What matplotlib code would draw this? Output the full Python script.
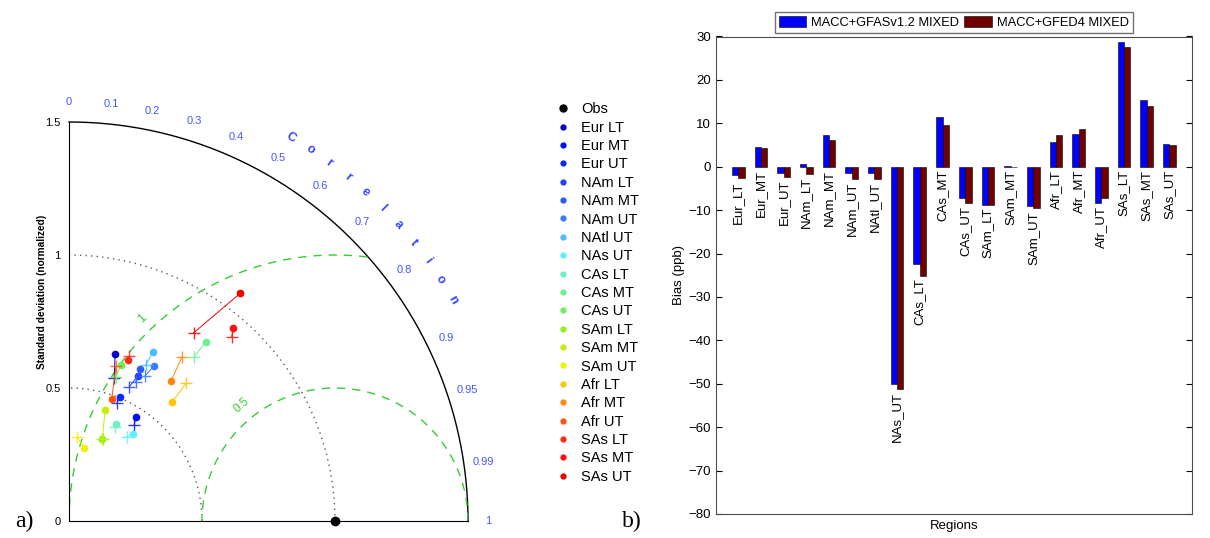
import numpy as np
import matplotlib.pyplot as plt
from matplotlib.lines import Line2D

plt.rcParams['font.family'] = ['Liberation Sans', 'DejaVu Sans']

# regions / layers
regions = ['Eur LT', 'Eur MT', 'Eur UT', 'NAm LT', 'NAm MT', 'NAm UT', 'NAtl UT',
           'NAs UT', 'CAs LT', 'CAs MT', 'CAs UT', 'SAm LT', 'SAm MT', 'SAm UT',
           'Afr LT', 'Afr MT', 'Afr UT', 'SAs LT', 'SAs MT', 'SAs UT']
bar_names = [r.replace(' ', '_') for r in regions]

colors = ['#0000c8', '#0010f0', '#0a28ff', '#1e40ff', '#2a5cff', '#3a7cff', '#4cbcff',
          '#5ef0f8', '#6cf0c8', '#6ef090', '#70f058', '#90f020', '#c4f000', '#f0f000',
          '#ffc400', '#ff8810', '#ff5410', '#ff2810', '#ff1010', '#f00000']

# Taylor statistics (normalized std, correlation)
gfas_std = [0.651, 0.465, 0.504, 0.603, 0.630, 0.664, 0.711, 0.405, 0.405, 0.847,
            0.618, 0.332, 0.439, 0.281, 0.591, 0.651, 0.487, 0.645, 0.953, 1.071]
gfas_corr = [0.266, 0.539, 0.380, 0.428, 0.425, 0.480, 0.446, 0.591, 0.434, 0.607,
             0.316, 0.371, 0.309, 0.201, 0.655, 0.589, 0.330, 0.346, 0.648, 0.601]
gfed_std = [0.564, 0.437, 0.478, 0.554, 0.581, 0.615, 0.654, 0.384, 0.392, 0.776,
            0.570, 0.336, 0.332, 0.316, 0.679, 0.750, 0.609, 0.662, 0.924, 0.848]
gfed_corr = [0.302, 0.562, 0.376, 0.410, 0.432, 0.464, 0.441, 0.565, 0.441, 0.606,
             0.310, 0.386, 0.377, 0.099, 0.648, 0.567, 0.290, 0.343, 0.662, 0.552]

# bias (ppb)
bias_gfas = [-1.9, 4.6, -1.5, 0.7, 7.4, -1.5, -1.5, -50.0, -22.3, 11.4,
             -7.3, -8.8, 0.2, -9.1, 5.6, 7.6, -8.3, 28.8, 15.3, 5.2]
bias_gfed = [-2.7, 4.2, -2.3, -1.6, 6.1, -2.8, -2.8, -51.2, -25.1, 9.7,
             -8.3, -8.8, -0.1, -9.6, 7.4, 8.6, -7.1, 27.6, 14.0, 4.9]

corr_ticks = [0, 0.1, 0.2, 0.3, 0.4, 0.5, 0.6, 0.7, 0.8, 0.9, 0.95, 0.99, 1]

fig = plt.figure(figsize=(12.1, 5.38), dpi=100)

# ---- a) Taylor diagram
ax1 = fig.add_axes([69/1210, 17/538, 399/1210, 399/538])
ax1.set_xlim(0, 1.5)
ax1.set_ylim(0, 1.5)
for s in ['top', 'right']:
    ax1.spines[s].set_visible(False)
ax1.set_xticks([])
ax1.set_yticks([0, 0.5, 1, 1.5])
ax1.set_yticklabels(['0', '0.5', '1', '1.5'], fontsize=8)
ax1.tick_params(axis='y', length=0, pad=6)

th = np.linspace(0, np.pi/2, 300)
ax1.plot(1.5*np.cos(th), 1.5*np.sin(th), color='k', lw=1, clip_on=False)
for r in [0.5, 1.0]:
    ax1.plot(r*np.cos(th), r*np.sin(th), color='0.35', lw=1, ls=(0, (1, 3)))

# centred RMS arcs
for r in [0.5, 1.0]:
    t = np.linspace(0, np.pi, 400)
    xx, yy = 1 + r*np.cos(t), r*np.sin(t)
    keep = (xx**2 + yy**2 <= 1.5**2 + 1e-9) & (xx >= 0)
    ax1.plot(xx[keep], yy[keep], color='#33cc33', lw=1, ls=(0, (6, 5)))
ax1.text(1 + 0.56*np.cos(np.radians(129)), 0.56*np.sin(np.radians(129)), '0.5',
         color='#33cc33', fontsize=8.5, rotation=42, ha='center', va='center')
ax1.text(1 + 1.05*np.cos(np.radians(133.5)), 1.05*np.sin(np.radians(133.5)), '1',
         color='#33cc33', fontsize=8.5, rotation=45, ha='center', va='center')

# correlation labels
for c in corr_ticks:
    a = np.arccos(c)
    ax1.text(1.575*np.cos(a), 1.575*np.sin(a), f'{c:g}', color='#4455ff',
             fontsize=8, ha='center', va='center', clip_on=False)
word = 'Correlation'
for i, ch in enumerate(word):
    a = np.radians(60 - i*3)
    ax1.text(1.665*np.cos(a), 1.665*np.sin(a), ch, color='#3344ff', fontsize=9,
             fontweight='bold', rotation=np.degrees(a) - 90, ha='center', va='center')

ax1.text(-0.1, 0.86, 'Standard deviation (normalized)', rotation=90, fontsize=7.3,
         fontweight='bold', ha='center', va='center')

ax1.plot(1, 0, 'o', color='k', ms=6, clip_on=False, zorder=5)
for i in range(len(regions)):
    a1, a2 = np.arccos(gfas_corr[i]), np.arccos(gfed_corr[i])
    x1, y1 = gfas_std[i]*np.cos(a1), gfas_std[i]*np.sin(a1)
    x2, y2 = gfed_std[i]*np.cos(a2), gfed_std[i]*np.sin(a2)
    ax1.plot([x1, x2], [y1, y2], color=colors[i], lw=0.7)
    ax1.plot(x1, y1, 'o', color=colors[i], ms=4.5)
    ax1.plot(x2, y2, '+', color=colors[i], ms=8, mew=1, alpha=0.85)

handles = [Line2D([], [], marker='o', ls='', color='k', ms=5)]
handles += [Line2D([], [], marker='o', ls='', color=c, ms=3.5) for c in colors]
fig.legend(handles, ['Obs'] + regions, loc='upper left',
           bbox_to_anchor=(548/1210, 1 - 95/538), frameon=False, fontsize=10.5,
           labelspacing=0.3, handletextpad=0.75, handlelength=1.0, borderpad=0)

fig.text(15/1210, 1 - 521/538, 'a)', fontsize=17, family='Liberation Serif', va='center')
fig.text(622/1210, 1 - 521/538, 'b)', fontsize=17, family='Liberation Serif', va='center')

# ---- b) bias bars
ax2 = fig.add_axes([715.7/1210, 24/538, 476.3/1210, 477.5/538])
x = np.arange(1, len(bar_names) + 1)
w = 0.28
ax2.bar(x - w/2, bias_gfas, w, color='#0000ff', edgecolor='k', lw=0.4,
        label='MACC+GFASv1.2 MIXED')
ax2.bar(x + w/2, bias_gfed, w, color='#6e0000', edgecolor='k', lw=0.4,
        label='MACC+GFED4 MIXED')
for xi, name, b1, b2 in zip(x, bar_names, bias_gfas, bias_gfed):
    ax2.text(xi, min(0, b1, b2) - 0.7, name, rotation=90, ha='center', va='top',
             fontsize=9.5)
ax2.set_xlim(0, 21)
ax2.set_ylim(-80, 30)
ax2.set_xticks([])
ax2.set_yticks(np.arange(-80, 31, 10))
ax2.tick_params(axis='y', direction='in', right=True, labelsize=9.5, length=4)
ax2.set_ylabel('Bias (ppb)', fontsize=9.5, labelpad=2)
ax2.set_xlabel('Regions', fontsize=9.5, labelpad=4)
for s in ax2.spines.values():
    s.set_color('0.3')
ax2.legend(loc='lower center', bbox_to_anchor=(0.5, 1.008), ncol=2, fontsize=9.3,
           frameon=True, fancybox=False, edgecolor='0.3', borderpad=0.3,
           handlelength=2.1, handleheight=1.0, handletextpad=0.4, columnspacing=0.4,
           borderaxespad=0)

fig.savefig('out.png', dpi=100)
